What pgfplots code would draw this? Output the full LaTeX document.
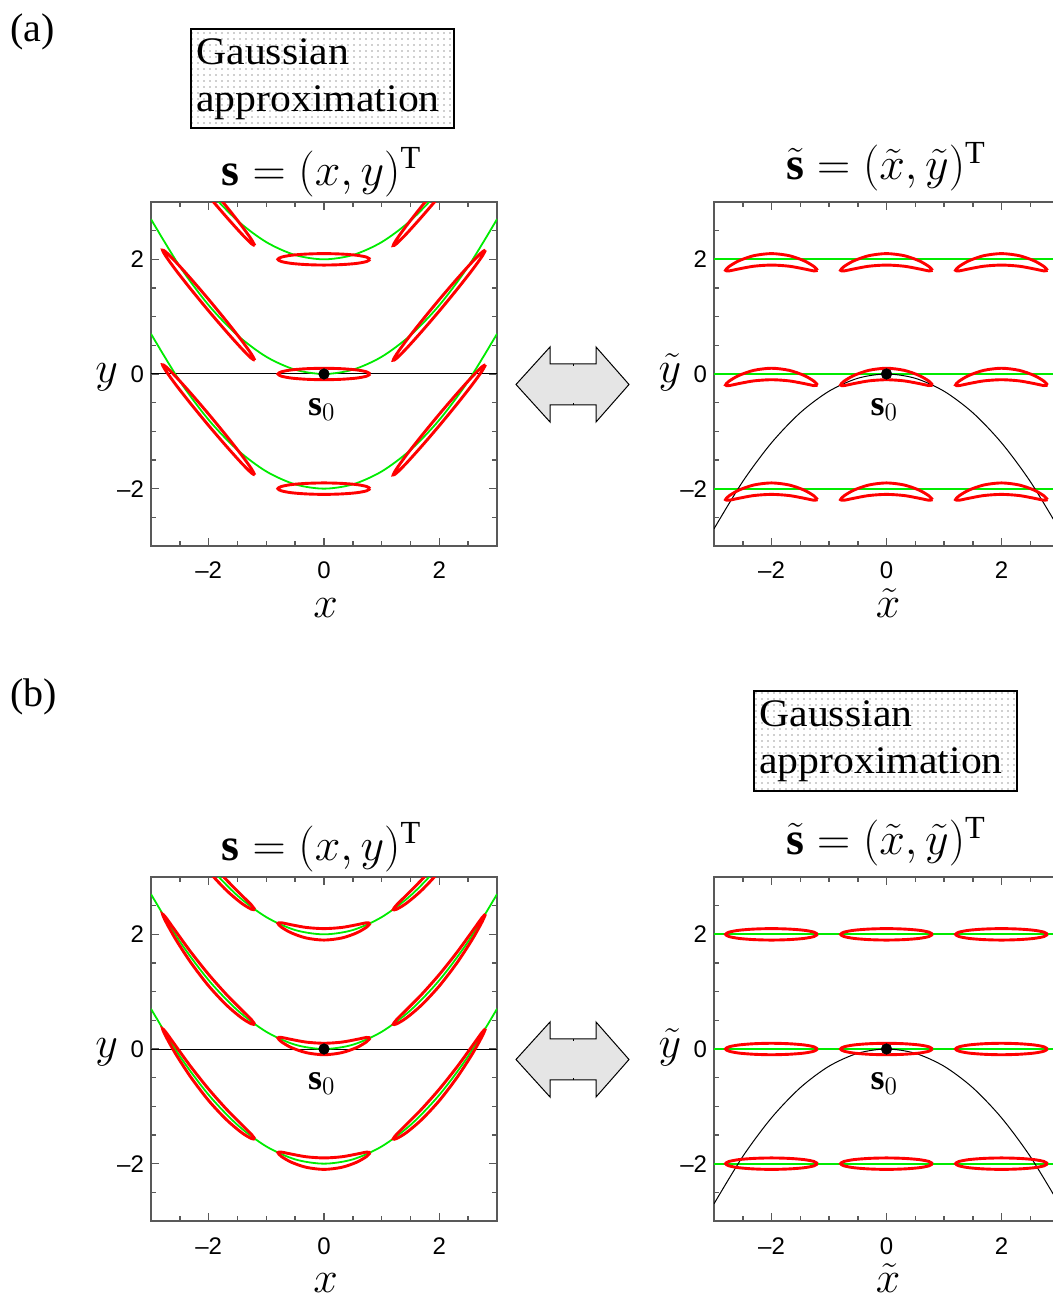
\documentclass[border=0pt]{standalone}
\usepackage{fix-cm}
\usepackage{fontspec}
\setmainfont{Liberation Serif}
\newfontfamily\helv{Liberation Sans}
\newfontfamily\gfont[FakeStretch=1.07]{Liberation Serif}
\usepackage{graphicx}
\usepackage{pgfplots}
\usepackage{pgfplotstable}
\pgfplotsset{compat=1.18}
\usetikzlibrary{patterns.meta}
\definecolor{lgreen}{RGB}{0,235,0}
\definecolor{framegray}{gray}{0.35}

% common x columns for ellipses centred at x0=-2 (xm), 0 (xz), 2 (xp)
% (a) right: y = c - 0.3u^2 + v ; (b) right: y = c + v
\pgfplotstableread{
xm xz xp arn arz arp brn brz brp
-1.2 0.8 2.8 -2.192 -0.192 1.808 -2 0 2
-1.261 0.739 2.739 -2.126 -0.126 1.874 -1.962 0.038 2.038
-1.434 0.566 2.566 -2.025 -0.025 1.975 -1.929 0.071 2.071
-1.694 0.306 2.306 -1.936 0.064 2.064 -1.908 0.092 2.092
-2 0 2 -1.9 0.1 2.1 -1.9 0.1 2.1
-2.306 -0.306 1.694 -1.936 0.064 2.064 -1.908 0.092 2.092
-2.566 -0.566 1.434 -2.025 -0.025 1.975 -1.929 0.071 2.071
-2.739 -0.739 1.261 -2.126 -0.126 1.874 -1.962 0.038 2.038
-2.8 -0.8 1.2 -2.192 -0.192 1.808 -2 0 2
-2.739 -0.739 1.261 -2.202 -0.202 1.798 -2.038 -0.038 1.962
-2.566 -0.566 1.434 -2.167 -0.167 1.833 -2.071 -0.071 1.929
-2.306 -0.306 1.694 -2.120 -0.120 1.880 -2.092 -0.092 1.908
-2 0 2 -2.1 -0.1 1.9 -2.1 -0.1 1.9
-1.694 0.306 2.306 -2.120 -0.120 1.880 -2.092 -0.092 1.908
-1.434 0.566 2.566 -2.167 -0.167 1.833 -2.071 -0.071 1.929
-1.261 0.739 2.739 -2.202 -0.202 1.798 -2.038 -0.038 1.962
-1.2 0.8 2.8 -2.192 -0.192 1.808 -2 0 2
}\rightdata

% (a) left: columns c (n,z,p) then x0 (m,z,p)
\pgfplotstableread{
xm xz xp nm nz np zm zz zp pm pz pp
-1.2 0.8 2.8 -1.76 -2 0.16 0.24 0 2.16 2.24 2 4.16
-1.261 0.739 2.739 -1.649 -1.962 0.125 0.351 0.038 2.125 2.351 2.038 4.125
-1.434 0.566 2.566 -1.408 -1.929 -0.05 0.592 0.071 1.95 2.592 2.071 3.95
-1.694 0.306 2.306 -1.075 -1.908 -0.341 0.925 0.092 1.659 2.925 2.092 3.659
-2 0 2 -0.7 -1.9 -0.7 1.3 0.1 1.3 3.3 2.1 3.3
-2.306 -0.306 1.694 -0.341 -1.908 -1.075 1.659 0.092 0.925 3.659 2.092 2.925
-2.566 -0.566 1.434 -0.05 -1.929 -1.408 1.95 0.071 0.592 3.95 2.071 2.592
-2.739 -0.739 1.261 0.125 -1.962 -1.649 2.125 0.038 0.351 4.125 2.038 2.351
-2.8 -0.8 1.2 0.16 -2 -1.76 2.16 0 0.24 4.16 2 2.24
-2.739 -0.739 1.261 0.049 -2.038 -1.725 2.049 -0.038 0.275 4.049 1.962 2.275
-2.566 -0.566 1.434 -0.192 -2.071 -1.55 1.808 -0.071 0.45 3.808 1.929 2.45
-2.306 -0.306 1.694 -0.525 -2.092 -1.259 1.475 -0.092 0.741 3.475 1.908 2.741
-2 0 2 -0.9 -2.1 -0.9 1.1 -0.1 1.1 3.1 1.9 3.1
-1.694 0.306 2.306 -1.259 -2.092 -0.525 0.741 -0.092 1.475 2.741 1.908 3.475
-1.434 0.566 2.566 -1.55 -2.071 -0.192 0.45 -0.071 1.808 2.45 1.929 3.808
-1.261 0.739 2.739 -1.725 -2.038 0.049 0.275 -0.038 2.049 2.275 1.962 4.049
-1.2 0.8 2.8 -1.76 -2 0.16 0.24 0 2.16 2.24 2 4.16
}\aleftdata

% (b) left
\pgfplotstableread{
xm xz xp nm nz np zm zz zp pm pz pp
-1.2 0.8 2.8 -1.568 -1.808 0.352 0.432 0.192 2.352 2.432 2.192 4.352
-1.261 0.739 2.739 -1.485 -1.798 0.289 0.515 0.202 2.289 2.515 2.202 4.289
-1.434 0.566 2.566 -1.312 -1.833 0.046 0.688 0.167 2.046 2.688 2.167 4.046
-1.694 0.306 2.306 -1.047 -1.880 -0.313 0.953 0.120 1.687 2.953 2.120 3.687
-2 0 2 -0.7 -1.9 -0.7 1.3 0.1 1.3 3.3 2.1 3.3
-2.306 -0.306 1.694 -0.313 -1.880 -1.047 1.687 0.120 0.953 3.687 2.120 2.953
-2.566 -0.566 1.434 0.046 -1.833 -1.312 2.046 0.167 0.688 4.046 2.167 2.688
-2.739 -0.739 1.261 0.289 -1.798 -1.485 2.289 0.202 0.515 4.289 2.202 2.515
-2.8 -0.8 1.2 0.352 -1.808 -1.568 2.352 0.192 0.432 4.352 2.192 2.432
-2.739 -0.739 1.261 0.213 -1.874 -1.561 2.213 0.126 0.439 4.213 2.126 2.439
-2.566 -0.566 1.434 -0.096 -1.975 -1.454 1.904 0.025 0.546 3.904 2.025 2.546
-2.306 -0.306 1.694 -0.497 -2.064 -1.231 1.503 -0.064 0.769 3.503 1.936 2.769
-2 0 2 -0.9 -2.1 -0.9 1.1 -0.1 1.1 3.1 1.9 3.1
-1.694 0.306 2.306 -1.231 -2.064 -0.497 0.769 -0.064 1.503 2.769 1.936 3.503
-1.434 0.566 2.566 -1.454 -1.975 -0.096 0.546 0.025 1.904 2.546 2.025 3.904
-1.261 0.739 2.739 -1.561 -1.874 0.213 0.439 0.126 2.213 2.439 2.126 4.213
-1.2 0.8 2.8 -1.568 -1.808 0.352 0.432 0.192 2.352 2.432 2.192 4.352
}\bleftdata

% parabolas: green y = c + 0.3x^2, black y = -0.3x^2
\pgfplotstableread{
x gn gz gp k
-3 0.7 2.7 4.7 -2.7
-2.5 -0.125 1.875 3.875 -1.875
-2 -0.8 1.2 3.2 -1.2
-1.5 -1.325 0.675 2.675 -0.675
-1 -1.7 0.3 2.3 -0.3
-0.5 -1.925 0.075 2.075 -0.075
0 -2 0 2 0
0.5 -1.925 0.075 2.075 -0.075
1 -1.7 0.3 2.3 -0.3
1.5 -1.325 0.675 2.675 -0.675
2 -0.8 1.2 3.2 -1.2
2.5 -0.125 1.875 3.875 -1.875
3 0.7 2.7 4.7 -2.7
}\parab

\pgfplotsset{
  panel/.style={
    scale only axis, width=173pt, height=172pt,
    xmin=-3, xmax=3, ymin=-3, ymax=3,
    xtick={-2,0,2}, ytick={-2,0,2},
    xticklabels={\textendash2,0,2}, yticklabels={\textendash2,0,2},
    minor xtick={-2.5,-1.5,-1,-0.5,0.5,1,1.5,2.5},
    minor ytick={-2.5,-1.5,-1,-0.5,0.5,1,1.5,2.5},
    major tick length=4pt, minor tick length=2.5pt,
    tick style={framegray, line width=0.75pt},
    axis line style={framegray, line width=1pt},
    tick label style={font=\helv\fontsize{12}{12}\selectfont},
    xticklabel style={anchor=base, yshift=-16.5pt, inner sep=0pt},
    every axis x label/.style={at={(axis description cs:0.505,-0.208)}, anchor=base, font=\fontsize{22}{22}\selectfont},
    every axis y label/.style={at={(axis description cs:-0.128,0.474)}, anchor=base, font=\fontsize{22}{22}\selectfont},
    every axis title/.style={anchor=base, inner sep=0pt, font=\fontsize{23}{23}\selectfont},
  },
  ell/.style={red, line width=1.45pt, smooth},
  grn/.style={lgreen, line width=0.9pt, smooth},
  blk/.style={black, line width=0.5pt, smooth},
}

\newcommand{\lefttitle}{$\mathbf{s}=(x,y)^{\mathrm{T}}$}
\newcommand{\righttitle}{$\tilde{\mathbf{s}}=(\tilde{x},\tilde{y})^{\mathrm{T}}$}

\begin{document}
\begin{tikzpicture}
\path[use as bounding box] (0pt,0pt) rectangle (526.5pt,649.5pt);

% ---------- labels (a), (b) ----------
\node[anchor=base west, inner sep=0pt, font=\fontsize{20}{20}\selectfont] at (5pt,628.5pt) {(a)};
\node[anchor=base west, inner sep=0pt, font=\fontsize{20}{20}\selectfont] at (5pt,296pt) {(b)};

% ---------- Gaussian approximation boxes ----------
\path[pattern={Dots[distance=3pt, radius=0.35pt]}, pattern color=black!80] (95.5pt,585.5pt) rectangle (227pt,635pt);
\draw[line width=0.6pt] (95.5pt,585.5pt) rectangle (227pt,635pt);
\node[anchor=base west, inner sep=0pt, font=\gfont\fontsize{19.5}{19.5}\selectfont] at (98pt,617pt) {Gaussian};
\node[anchor=base west, inner sep=0pt, font=\gfont\fontsize{19.5}{19.5}\selectfont] at (98pt,593.5pt) {approximation};

\path[pattern={Dots[distance=3pt, radius=0.35pt]}, pattern color=black!80] (377pt,254pt) rectangle (508.5pt,304pt);
\draw[line width=0.6pt] (377pt,254pt) rectangle (508.5pt,304pt);
\node[anchor=base west, inner sep=0pt, font=\gfont\fontsize{19.5}{19.5}\selectfont] at (379.5pt,286pt) {Gaussian};
\node[anchor=base west, inner sep=0pt, font=\gfont\fontsize{19.5}{19.5}\selectfont] at (379.5pt,262.5pt) {approximation};

% ---------- double arrows ----------
\draw[fill=black!10, line width=0.5pt, line join=miter]
  (258pt,457.25pt) -- (275pt,476pt) -- (275pt,467.5pt) -- (298pt,467.5pt) -- (298pt,476pt)
  -- (314.5pt,457.25pt) -- (298pt,438.5pt) -- (298pt,447pt) -- (275pt,447pt) -- (275pt,438.5pt) -- cycle;
\draw[line width=0.5pt] (286.5pt,467.5pt) -- (286.5pt,466.5pt) (286.5pt,447pt) -- (286.5pt,448pt);
\draw[fill=black!10, line width=0.5pt, line join=miter]
  (258pt,119.75pt) -- (275pt,138.5pt) -- (275pt,130pt) -- (298pt,130pt) -- (298pt,138.5pt)
  -- (314.5pt,119.75pt) -- (298pt,101pt) -- (298pt,109.5pt) -- (275pt,109.5pt) -- (275pt,101pt) -- cycle;
\draw[line width=0.5pt] (286.5pt,130pt) -- (286.5pt,129pt) (286.5pt,109.5pt) -- (286.5pt,110.5pt);

% ================= (a) left =================
\begin{axis}[panel, at={(75.5pt,376.5pt)}, anchor=south west,
  xlabel={$x$}, ylabel={$y$},
  title={\lefttitle}, title style={at={(axis description cs:0.493,1.049)}}]
\addplot[black, line width=0.5pt] coordinates {(-3,0) (3,0)};
\addplot[grn] table[x=x, y=gn] {\parab};
\addplot[grn] table[x=x, y=gz] {\parab};
\addplot[grn] table[x=x, y=gp] {\parab};
\addplot[ell] table[x=xm, y=nm] {\aleftdata};
\addplot[ell] table[x=xz, y=nz] {\aleftdata};
\addplot[ell] table[x=xp, y=np] {\aleftdata};
\addplot[ell] table[x=xm, y=zm] {\aleftdata};
\addplot[ell] table[x=xz, y=zz] {\aleftdata};
\addplot[ell] table[x=xp, y=zp] {\aleftdata};
\addplot[ell] table[x=xm, y=pm] {\aleftdata};
\addplot[ell] table[x=xz, y=pz] {\aleftdata};
\addplot[ell] table[x=xp, y=pp] {\aleftdata};
\addplot[only marks, mark=*, mark size=2.6pt, black] coordinates {(0,0)};
\node[anchor=base, font=\fontsize{18}{18}\selectfont] at (axis cs:-0.04,-0.72) {$\mathbf{s}_0$};
\end{axis}

% ================= (a) right =================
\begin{axis}[panel, at={(357pt,376.5pt)}, anchor=south west, width=172.5pt,
  xlabel={$\tilde{x}$}, ylabel={$\tilde{y}$},
  title={\righttitle}, title style={at={(axis description cs:0.499,1.064)}}]
\addplot[lgreen, line width=0.9pt] coordinates {(-3,-2) (3,-2)};
\addplot[lgreen, line width=0.9pt] coordinates {(-3,0) (3,0)};
\addplot[lgreen, line width=0.9pt] coordinates {(-3,2) (3,2)};
\addplot[blk] table[x=x, y=k] {\parab};
\addplot[ell] table[x=xm, y=arn] {\rightdata};
\addplot[ell] table[x=xz, y=arn] {\rightdata};
\addplot[ell] table[x=xp, y=arn] {\rightdata};
\addplot[ell] table[x=xm, y=arz] {\rightdata};
\addplot[ell] table[x=xz, y=arz] {\rightdata};
\addplot[ell] table[x=xp, y=arz] {\rightdata};
\addplot[ell] table[x=xm, y=arp] {\rightdata};
\addplot[ell] table[x=xz, y=arp] {\rightdata};
\addplot[ell] table[x=xp, y=arp] {\rightdata};
\addplot[only marks, mark=*, mark size=2.6pt, black] coordinates {(0,0)};
\node[anchor=base, font=\fontsize{18}{18}\selectfont] at (axis cs:-0.04,-0.72) {$\mathbf{s}_0$};
\end{axis}

% ================= (b) left =================
\begin{axis}[panel, at={(75.5pt,39pt)}, anchor=south west,
  xlabel={$x$}, ylabel={$y$},
  title={\lefttitle}, title style={at={(axis description cs:0.493,1.049)}}]
\addplot[black, line width=0.5pt] coordinates {(-3,0) (3,0)};
\addplot[grn] table[x=x, y=gn] {\parab};
\addplot[grn] table[x=x, y=gz] {\parab};
\addplot[grn] table[x=x, y=gp] {\parab};
\addplot[ell] table[x=xm, y=nm] {\bleftdata};
\addplot[ell] table[x=xz, y=nz] {\bleftdata};
\addplot[ell] table[x=xp, y=np] {\bleftdata};
\addplot[ell] table[x=xm, y=zm] {\bleftdata};
\addplot[ell] table[x=xz, y=zz] {\bleftdata};
\addplot[ell] table[x=xp, y=zp] {\bleftdata};
\addplot[ell] table[x=xm, y=pm] {\bleftdata};
\addplot[ell] table[x=xz, y=pz] {\bleftdata};
\addplot[ell] table[x=xp, y=pp] {\bleftdata};
\addplot[only marks, mark=*, mark size=2.6pt, black] coordinates {(0,0)};
\node[anchor=base, font=\fontsize{18}{18}\selectfont] at (axis cs:-0.04,-0.7) {$\mathbf{s}_0$};
\end{axis}

% ================= (b) right =================
\begin{axis}[panel, at={(357pt,39pt)}, anchor=south west, width=172.5pt,
  xlabel={$\tilde{x}$}, ylabel={$\tilde{y}$},
  title={\righttitle}, title style={at={(axis description cs:0.499,1.064)}}]
\addplot[lgreen, line width=0.9pt] coordinates {(-3,-2) (3,-2)};
\addplot[lgreen, line width=0.9pt] coordinates {(-3,0) (3,0)};
\addplot[lgreen, line width=0.9pt] coordinates {(-3,2) (3,2)};
\addplot[blk] table[x=x, y=k] {\parab};
\addplot[ell] table[x=xm, y=brn] {\rightdata};
\addplot[ell] table[x=xz, y=brn] {\rightdata};
\addplot[ell] table[x=xp, y=brn] {\rightdata};
\addplot[ell] table[x=xm, y=brz] {\rightdata};
\addplot[ell] table[x=xz, y=brz] {\rightdata};
\addplot[ell] table[x=xp, y=brz] {\rightdata};
\addplot[ell] table[x=xm, y=brp] {\rightdata};
\addplot[ell] table[x=xz, y=brp] {\rightdata};
\addplot[ell] table[x=xp, y=brp] {\rightdata};
\addplot[only marks, mark=*, mark size=2.6pt, black] coordinates {(0,0)};
\node[anchor=base, font=\fontsize{18}{18}\selectfont] at (axis cs:-0.04,-0.7) {$\mathbf{s}_0$};
\end{axis}
\end{tikzpicture}
\end{document}
